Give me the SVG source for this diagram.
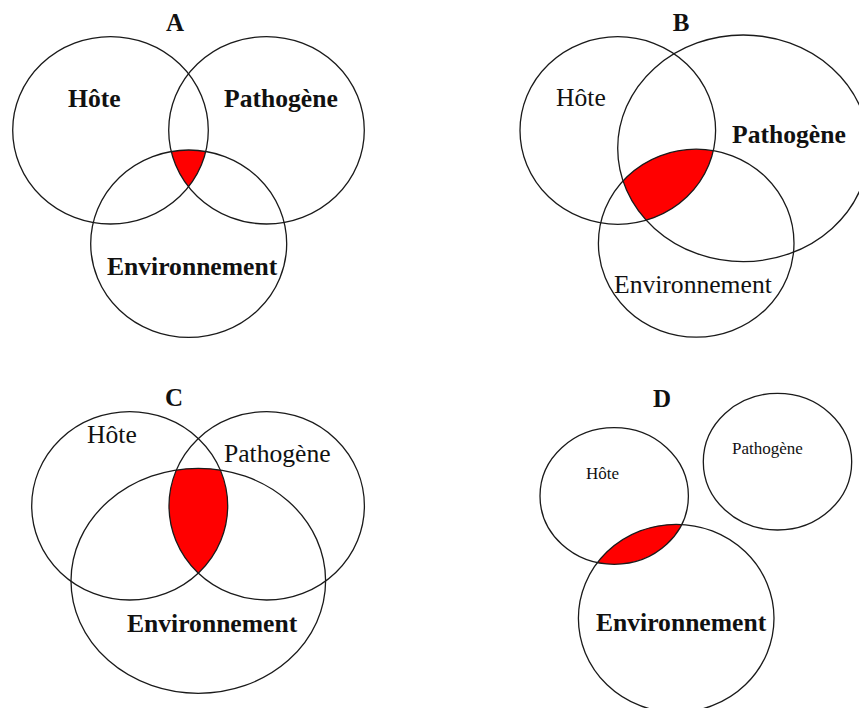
<svg xmlns="http://www.w3.org/2000/svg" width="859" height="708" viewBox="0 0 859 708">
<style>
.c{fill:none;stroke:#1a1a1a;stroke-width:1.3}
.r{fill:#ff0000;stroke:none}
text{font-family:"Liberation Serif","Times New Roman",serif;fill:#111}
.b{font-weight:bold}
.t{font-size:25.6px}
.s{font-size:17px}
.h{font-size:25px;font-weight:bold;text-anchor:middle}
</style>
<defs>
<clipPath id="aH"><ellipse cx="110.5" cy="130.3" rx="97.8" ry="93.7"/></clipPath>
<clipPath id="aP"><ellipse cx="266.5" cy="130.3" rx="97.8" ry="93.7"/></clipPath>
<clipPath id="bH"><ellipse cx="617.8" cy="130.5" rx="97.8" ry="93.8"/></clipPath>
<clipPath id="bP"><ellipse cx="743.3" cy="148.3" rx="125.6" ry="113.3"/></clipPath>
<clipPath id="cH"><ellipse cx="129.7" cy="505.8" rx="98" ry="94.2"/></clipPath>
<clipPath id="cP"><ellipse cx="266.7" cy="505.8" rx="97.7" ry="94.2"/></clipPath>
<clipPath id="dH"><ellipse cx="614.2" cy="496" rx="74.2" ry="68.3"/></clipPath>
</defs>
<rect width="859" height="708" fill="#fff"/>

<g id="panelA">
  <text class="h" x="175" y="31">A</text>
  <g id="A-overlap" clip-path="url(#aH)"><g clip-path="url(#aP)"><ellipse class="r" cx="188.7" cy="243.7" rx="98" ry="93.7"/></g></g>
  <g id="A-hote"><ellipse class="c" cx="110.5" cy="130.3" rx="97.8" ry="93.7"/><text class="t b" x="68" y="107">Hôte</text></g>
  <g id="A-pathogene"><ellipse class="c" cx="266.5" cy="130.3" rx="97.8" ry="93.7"/><text class="t b" x="224" y="107">Pathogène</text></g>
  <g id="A-environnement"><ellipse class="c" cx="188.7" cy="243.7" rx="98" ry="93.7"/><text class="t b" x="107" y="275">Environnement</text></g>
</g>

<g id="panelB">
  <text class="h" x="681" y="31">B</text>
  <g id="B-overlap" clip-path="url(#bH)"><g clip-path="url(#bP)"><ellipse class="r" cx="696.2" cy="243.2" rx="97.8" ry="94"/></g></g>
  <g id="B-hote"><ellipse class="c" cx="617.8" cy="130.5" rx="97.8" ry="93.8"/><text class="t" x="556" y="106">Hôte</text></g>
  <g id="B-pathogene"><ellipse class="c" cx="743.3" cy="148.3" rx="125.6" ry="113.3"/><text class="t b" x="732" y="143">Pathogène</text></g>
  <g id="B-environnement"><ellipse class="c" cx="696.2" cy="243.2" rx="97.8" ry="94"/><text class="t" x="614" y="293">Environnement</text></g>
</g>

<g id="panelC">
  <text class="h" x="174" y="406">C</text>
  <g id="C-overlap" clip-path="url(#cH)"><g clip-path="url(#cP)"><ellipse class="r" cx="198.3" cy="580.8" rx="127.3" ry="112.5"/></g></g>
  <g id="C-hote"><ellipse class="c" cx="129.7" cy="505.8" rx="98" ry="94.2"/><text class="t" x="87" y="443">Hôte</text></g>
  <g id="C-pathogene"><ellipse class="c" cx="266.7" cy="505.8" rx="97.7" ry="94.2"/><text class="t" x="224" y="462">Pathogène</text></g>
  <g id="C-environnement"><ellipse class="c" cx="198.3" cy="580.8" rx="127.3" ry="112.5"/><text class="t b" x="127" y="632">Environnement</text></g>
</g>

<g id="panelD">
  <text class="h" x="662" y="407">D</text>
  <g id="D-overlap" clip-path="url(#dH)"><ellipse class="r" cx="676.2" cy="618.3" rx="97.8" ry="94"/></g>
  <g id="D-hote"><ellipse class="c" cx="614.2" cy="496" rx="74.2" ry="68.3"/><text class="s" x="586" y="479">Hôte</text></g>
  <g id="D-pathogene"><ellipse class="c" cx="777.5" cy="461.7" rx="74.2" ry="68.3"/><text class="s" x="732" y="454">Pathogène</text></g>
  <g id="D-environnement"><ellipse class="c" cx="676.2" cy="618.3" rx="97.8" ry="94"/><text class="t b" x="596" y="631">Environnement</text></g>
</g>
</svg>
